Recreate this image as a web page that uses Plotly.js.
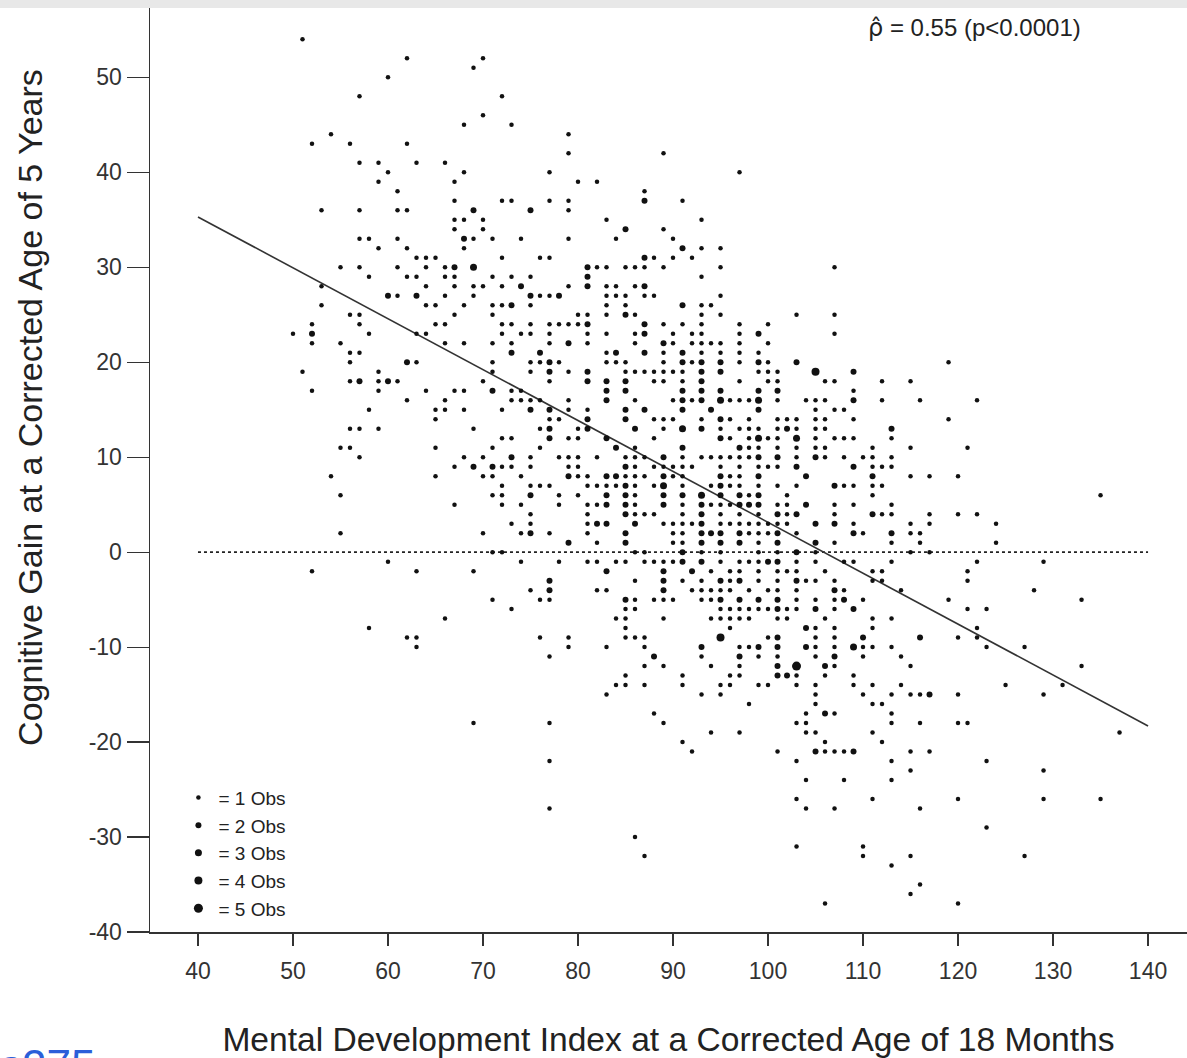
<!DOCTYPE html>
<html><head><meta charset="utf-8">
<script src="https://cdn.plot.ly/plotly-3.0.1.min.js"></script>
<style>html,body{margin:0;padding:0;background:#fff;} #chart{width:1187px;height:1058px;}</style>
</head><body><div id="chart"></div>
<script>
// ---- data: [MDI at 18 months, cognitive gain at 5 years] grouped by number of observations ----
const obs1 = [
[51,54],[62,52],[70,52],[69,51],[60,50],[57,48],[70,46],[68,45],[54,44],[52,43],[56,43],[62,43],[57,41],[59,41],[63,41],[66,41],[60,40],[68,40],[59,39],[67,39],[61,38],[67,37],[53,36],[57,36],[61,36],[62,36],[67,35],[68,35],[70,35],[67,34],[70,34],[69,33],[71,33],[57,33],[58,33],[61,33],[59,32],[62,32],[68,32],[63,31],[64,31],[65,31],[55,30],[57,30],[61,30],[64,30],[66,30],[58,29],[62,29],[63,29],[66,29],[67,29],[71,29],[53,28],[64,28],[67,28],[69,28],[70,28],[61,27],[66,27],[69,27],[53,26],[64,26],[65,26],[68,26],[71,26],[56,25],[57,25],[67,25],[71,25],[52,24],[57,24],[65,24],[66,24],
[72,48],[73,45],[79,44],[79,42],[89,42],[77,40],[80,39],[82,39],[87,38],[72,37],[73,37],[77,37],[79,37],[91,37],[79,36],[83,35],[93,35],[89,34],[74,33],[79,33],[84,33],[90,33],[93,32],[72,31],[76,31],[77,31],[88,31],[90,31],[92,31],[82,30],[83,30],[85,30],[86,30],[87,30],[89,30],[73,29],[75,29],[93,29],[72,28],[79,28],[83,28],[84,28],[86,28],[76,27],[77,27],[83,27],[84,27],[85,27],[87,27],[88,27],[72,26],[75,26],[83,26],[85,26],[93,26],[94,26],[80,25],[81,25],[83,25],[86,25],[93,25],
[97,40],[95,32],[95,30],[107,30],[95,27],[95,25],[103,25],[107,25],
[72,24],[73,24],[75,24],[77,24],[78,24],[79,24],[80,24],[89,24],[91,24],[93,24],
[72,23],[74,23],[75,23],[77,23],[81,23],[83,23],[86,23],[90,23],[92,23],[93,23],
[73,22],[77,22],[81,22],[86,22],[90,22],[92,22],[93,22],
[83,21],[89,21],[93,21],
[75,20],[76,20],[78,20],[83,20],[84,20],[85,20],[89,20],[92,20],
[75,19],[79,19],[85,19],[86,19],[87,19],[88,19],[89,19],[90,19],[91,19],
[77,18],[88,18],[89,18],[91,18],
[73,17],[74,17],
[73,16],[74,16],[75,16],[76,16],[79,16],[86,16],[90,16],[92,16],
[72,15],[79,15],[81,15],
[77,14],[78,14],[88,14],[89,14],[90,14],[93,14],
[76,13],[80,13],[89,13],
[72,12],[73,12],[79,12],[80,12],[88,12],
[76,11],[86,11],
[75,10],[78,10],[79,10],[80,10],[82,10],[85,10],[86,10],[87,10],[91,10],[93,10],
[72,9],[73,9],[75,9],[79,9],[80,9],[86,9],[88,9],[89,9],[90,9],[91,9],[92,9],
[74,8],[80,8],[81,8],[85,8],[86,8],[87,8],[90,8],[91,8],
[72,7],[75,7],[76,7],[77,7],[81,7],[82,7],[83,7],[84,7],[86,7],[88,7],[91,7],
[72,6],[78,6],[80,6],[86,6],
[72,5],[74,5],[78,5],[81,5],[82,5],[86,5],[91,5],
[75,4],[81,4],[86,4],[87,4],[88,4],[91,4],
[73,3],[75,3],[81,3],[89,3],[90,3],[91,3],[92,3],
[74,2],[77,2],[81,2],[90,2],[91,2],
[82,1],[90,1],[91,1],
[72,0],[86,0],[87,0],[93,0],
[74,-1],[78,-1],[81,-1],[82,-1],[84,-1],[85,-1],[87,-1],[88,-1],[89,-1],[90,-1],
[86,-3],[91,-3],[93,-3],
[75,-4],[82,-4],[83,-4],[92,-4],[93,-4],
[76,-5],[77,-5],[86,-5],[88,-5],[89,-5],[90,-5],[93,-5],
[73,-6],[85,-6],[86,-6],
[84,-7],[85,-7],[89,-7],
[97,24],[100,24],[97,23],[107,23],[94,22],[95,22],[97,22],[100,22],[95,21],[97,21],[99,21],[97,20],[100,20],
[99,19],[100,19],[101,19],
[97,18],[100,18],[101,18],[106,18],[107,18],[112,18],[115,18],
[109,17],
[96,16],[97,16],[98,16],[101,16],[104,16],[105,16],[106,16],[112,16],[116,16],
[105,15],[107,15],[108,15],
[96,14],[98,14],[101,14],[102,14],[103,14],[105,14],[106,14],[109,14],
[95,13],[97,13],[98,13],[99,13],[101,13],[103,13],[105,13],[106,13],
[96,12],[98,12],[100,12],[101,12],[105,12],[107,12],[108,12],[109,12],[113,12],
[98,11],[99,11],[101,11],[103,11],[105,11],[106,11],[111,11],[115,11],
[94,10],[95,10],[96,10],[97,10],[98,10],[103,10],[106,10],[108,10],[110,10],[111,10],[113,10],
[95,9],[97,9],[99,9],[100,9],[101,9],[111,9],[112,9],[113,9],
[96,8],[97,8],[115,8],
[94,7],[96,7],[97,7],[99,7],[101,7],[103,7],[108,7],[109,7],[111,7],[112,7],
[98,6],[102,6],[111,6],
[94,5],[95,5],[96,5],[101,5],[102,5],[107,5],[109,5],[113,5],
[95,4],[97,4],[99,4],[102,4],[107,4],[112,4],[113,4],
[95,3],[96,3],[97,3],[98,3],[99,3],[100,3],[101,3],[102,3],[109,3],[115,3],
[98,2],[99,2],[100,2],[103,2],[110,2],[115,2],[116,2],
[99,1],[107,1],[113,1],[116,1],
[95,0],[99,0],[101,0],[105,0],[115,0],
[95,-1],[97,-1],[98,-1],[99,-1],[103,-1],[105,-1],[108,-1],[109,-1],[113,-1],
[94,-2],[96,-2],[97,-2],[99,-2],[101,-2],[102,-2],[103,-2],[106,-2],[111,-2],[112,-2],
[96,-3],[99,-3],[101,-3],[104,-3],[105,-3],[107,-3],[111,-3],[112,-3],
[94,-4],[95,-4],[96,-4],[98,-4],[100,-4],[101,-4],[103,-4],[108,-4],[114,-4],
[94,-5],[103,-5],[105,-5],[107,-5],[110,-5],
[95,-6],[96,-6],[97,-6],[98,-6],[99,-6],[100,-6],[102,-6],[103,-6],[107,-6],
[94,-7],[95,-7],[96,-7],[97,-7],[98,-7],[101,-7],[102,-7],[106,-7],[111,-7],[113,-7],
[85,-8],[76,-9],[79,-9],[85,-9],[86,-9],[87,-9],[79,-10],[83,-10],[87,-10],[77,-11],[93,-11],[87,-12],[89,-12],[94,-12],[85,-13],[91,-13],[84,-14],[85,-14],[87,-14],[91,-14],[83,-15],[93,-15],[88,-17],[77,-18],[89,-18],[91,-20],[92,-21],[77,-22],[77,-27],[86,-30],[87,-32],
[96,-8],[105,-8],[107,-8],[111,-8],[100,-9],[105,-9],[107,-9],[97,-10],[98,-10],[105,-10],[107,-10],[110,-10],[111,-10],[113,-10],[99,-11],[101,-11],[105,-11],[110,-11],[114,-11],[97,-12],[107,-12],[115,-12],[96,-13],[97,-13],[103,-13],[106,-13],[109,-13],[95,-14],[96,-14],[99,-14],[100,-14],[103,-14],[105,-14],[109,-14],[111,-14],[114,-14],[95,-15],[105,-15],[110,-15],[113,-15],[115,-15],[116,-15],[98,-16],[105,-16],[111,-16],[112,-16],[104,-17],[107,-17],[113,-17],[103,-18],[104,-18],[113,-18],[116,-18],[94,-19],[97,-19],[104,-19],[105,-19],[111,-19],[106,-20],[112,-20],[101,-21],[106,-21],[107,-21],[108,-21],[115,-21],[103,-22],[113,-22],[115,-23],[104,-24],[108,-24],[113,-24],[103,-26],[111,-26],[104,-27],[107,-27],[116,-27],[103,-31],[110,-31],[110,-32],[115,-32],[113,-33],[116,-35],[115,-36],[106,-37],
[119,20],[122,16],[119,14],[121,11],[117,8],[120,8],[135,6],[117,4],[120,4],[122,4],[117,3],[124,3],[124,1],[117,0],[122,-1],[129,-1],[121,-2],[121,-3],[128,-4],[119,-5],[133,-5],[121,-6],[123,-6],[122,-8],[120,-9],[122,-9],[123,-10],[127,-10],[133,-12],[125,-14],[131,-14],[120,-15],[129,-15],[120,-18],[121,-18],[137,-19],[117,-21],[123,-22],[129,-23],[120,-26],[129,-26],[135,-26],[123,-29],[127,-32],[120,-37],
[50,23],[58,23],[63,23],[64,23],[52,22],[55,22],[66,22],[68,22],[71,22],[56,21],[57,21],[56,20],[63,20],[71,20],[51,19],[59,19],[71,19],[56,18],[59,18],[61,18],[70,18],[52,17],[59,17],[64,17],[67,17],[68,17],[62,16],[66,16],[58,15],[65,15],[66,15],[68,15],[65,14],[56,13],[57,13],[59,13],[69,13],[55,11],[56,11],[65,11],[71,11],[57,10],[68,10],[70,10],[67,9],[54,8],[65,8],[70,8],[71,8],[55,6],[71,6],[67,5],[55,2],[70,2],[71,0],[60,-1],[52,-2],[63,-2],[69,-2],[71,-5],[66,-7],[58,-8],[62,-9],[63,-9],[63,-10],[69,-18]
];
const obs2 = [
[69,36],[68,33],[67,30],[60,27],[63,27],
[87,37],[75,36],[85,34],[91,32],[87,31],[81,30],[81,29],[74,28],[81,28],[87,28],[75,27],[78,27],[73,26],[91,26],[85,25],
[81,24],[87,24],[87,23],[79,22],[89,22],[73,21],[76,21],[84,21],[87,21],[91,21],[77,20],[91,20],[93,20],[77,19],[81,19],[93,19],[81,18],[83,18],[85,18],[93,18],[83,17],[85,17],[91,17],[93,17],[83,16],[91,16],[93,16],[75,15],[77,15],[85,15],[87,15],[91,15],[81,14],[85,14],[77,13],[81,13],[86,13],[93,13],[77,12],[83,12],[84,11],[91,11],[73,10],[89,10],[85,9],[79,8],[83,8],[84,8],[89,8],[85,7],[75,6],[83,6],[85,6],[89,6],[91,6],[83,5],[85,5],[89,5],[93,5],[85,4],[93,4],[82,3],[83,3],[86,3],[93,3],[75,2],[85,2],[93,2],[79,1],[85,1],[93,1],[91,0],[91,-1],[93,-1],[83,-2],[89,-2],[92,-2],[77,-3],[89,-3],[77,-4],[89,-4],[85,-5],
[99,23],[95,20],[99,20],[103,20],[95,19],[109,19],[95,17],[99,17],[101,17],[109,16],[94,15],[99,15],[95,14],[102,13],[113,13],[95,12],[97,11],[99,10],[101,10],[105,10],[103,9],[109,9],[95,8],[99,8],[104,8],[111,8],[95,7],[107,7],[95,6],[97,6],[99,6],[97,5],[98,5],[99,5],[104,5],[101,4],[103,4],[111,4],[105,3],[107,3],[94,2],[95,2],[97,2],[101,2],[109,2],[113,2],[95,1],[97,1],[101,1],[105,1],[103,0],[100,-1],[101,-1],[95,-3],[97,-3],[103,-3],[107,-4],[95,-5],[97,-5],[99,-5],[101,-5],[108,-5],[101,-6],[105,-6],[109,-6],
[93,-10],[88,-11],[104,-8],[101,-9],[110,-9],[116,-9],[99,-10],[101,-10],[104,-10],[97,-11],[107,-11],[101,-12],[106,-12],[101,-13],[102,-13],[106,-17],[105,-21],[109,-21],
[117,-15],
[52,23],[62,20],[57,18],[60,18],[71,17],[69,9],[71,9]
];
const obs3 = [[69,30],[89,7],[93,6],[95,16],[99,16],[99,12],[103,12],[109,-10],[91,13]];
const obs4 = [[105,19],[95,-9]];
const obs5 = [[103,-12]];

const countLabels = ['= 1 Obs', '= 2 Obs', '= 3 Obs', '= 4 Obs', '= 5 Obs'];
const fitX = [40, 140];
const fitY = [35.3, -18.3];
const refX = [40, 140];
const refY = [0, 0];
const xTicks = [40, 50, 60, 70, 80, 90, 100, 110, 120, 130, 140];
const yTicks = [-40, -30, -20, -10, 0, 10, 20, 30, 40, 50];
const yTickText = ['-40', '-30', '-20', '-10', '0', '10', '20', '30', '40', '50'];

// ---- styles ----
const FONT = 'Liberation Sans, Arial, Helvetica, sans-serif';
const dotSizes = [4.5, 6, 7, 8, 9];
const groups = [obs1, obs2, obs3, obs4, obs5];

const traces = [
  {type: 'scatter', mode: 'lines', x: refX, y: refY, showlegend: false, hoverinfo: 'skip',
   line: {color: '#222', width: 1.6, dash: 'dot'}},
  {type: 'scatter', mode: 'lines', x: fitX, y: fitY, showlegend: false, hoverinfo: 'skip',
   line: {color: '#333', width: 1.6}}
];
groups.forEach((g, i) => {
  traces.push({
    type: 'scatter', mode: 'markers',
    x: g.map(p => p[0]), y: g.map(p => p[1]),
    name: countLabels[i], legendgroup: 'g' + i,
    marker: {size: dotSizes[i], color: '#111', line: {width: 0}}
  });
});

const axisCommon = {
  showgrid: false, zeroline: false, showline: true, linecolor: '#333', linewidth: 1.5,
  ticks: 'outside', tickcolor: '#333', tickwidth: 1.2,
  tickfont: {family: FONT, size: 23, color: '#333'}
};

const layout = {
  width: 1187, height: 1058,
  margin: {l: 150, r: 0, t: 8, b: 126},
  paper_bgcolor: '#ffffff', plot_bgcolor: '#ffffff',
  font: {family: FONT, color: '#222'},
  showlegend: true,
  legend: {x: 0.0274, y: 0.166, xanchor: 'left', yanchor: 'top', bgcolor: 'rgba(0,0,0,0)',
           font: {family: FONT, size: 19, color: '#222'}, itemsizing: 'trace',
           tracegroupgap: 6, traceorder: 'normal', itemwidth: 30},
  xaxis: Object.assign({}, axisCommon, {
    range: [34.95, 144.1], tickmode: 'array', tickvals: xTicks, ticklen: 12, ticklabelstandoff: 6,
    title: {text: 'Mental Development Index at a Corrected Age of 18 Months',
            font: {family: FONT, size: 33.6, color: '#222'}, standoff: 45}
  }),
  yaxis: Object.assign({}, axisCommon, {
    range: [-40, 57.3], tickmode: 'array', tickvals: yTicks, ticktext: yTickText, ticklen: 22
  }),
  shapes: [
    {type: 'rect', xref: 'paper', yref: 'paper', x0: -0.2, x1: 1.05, y0: 1.0, y1: 1.012,
     fillcolor: '#e8e8e8', line: {width: 0}, layer: 'below'}
  ],
  annotations: [
    {xref: 'paper', yref: 'paper', x: -0.116, y: 0.568, xanchor: 'center', yanchor: 'middle',
     textangle: -90, showarrow: false, text: 'Cognitive Gain at a Corrected Age of 5 Years',
     font: {family: FONT, size: 34, color: '#222'}},
    {xref: 'paper', yref: 'paper', x: 0.69, y: 0.978, xanchor: 'left', yanchor: 'middle',
     showarrow: false,
     text: '<span style="font-family:DejaVu Sans">\u03C1\u0302</span> = 0.55 (p&lt;0.0001)',
     font: {family: FONT, size: 24, color: '#222'}},
    {xref: 'paper', yref: 'paper', x: -0.147, y: -0.1155, xanchor: 'left', yanchor: 'top',
     showarrow: false, text: 's275', font: {family: FONT, size: 44, color: '#2b5fd9'}}
  ]
};

Plotly.newPlot('chart', traces, layout, {displayModeBar: false, staticPlot: true});
</script>
</body></html>
